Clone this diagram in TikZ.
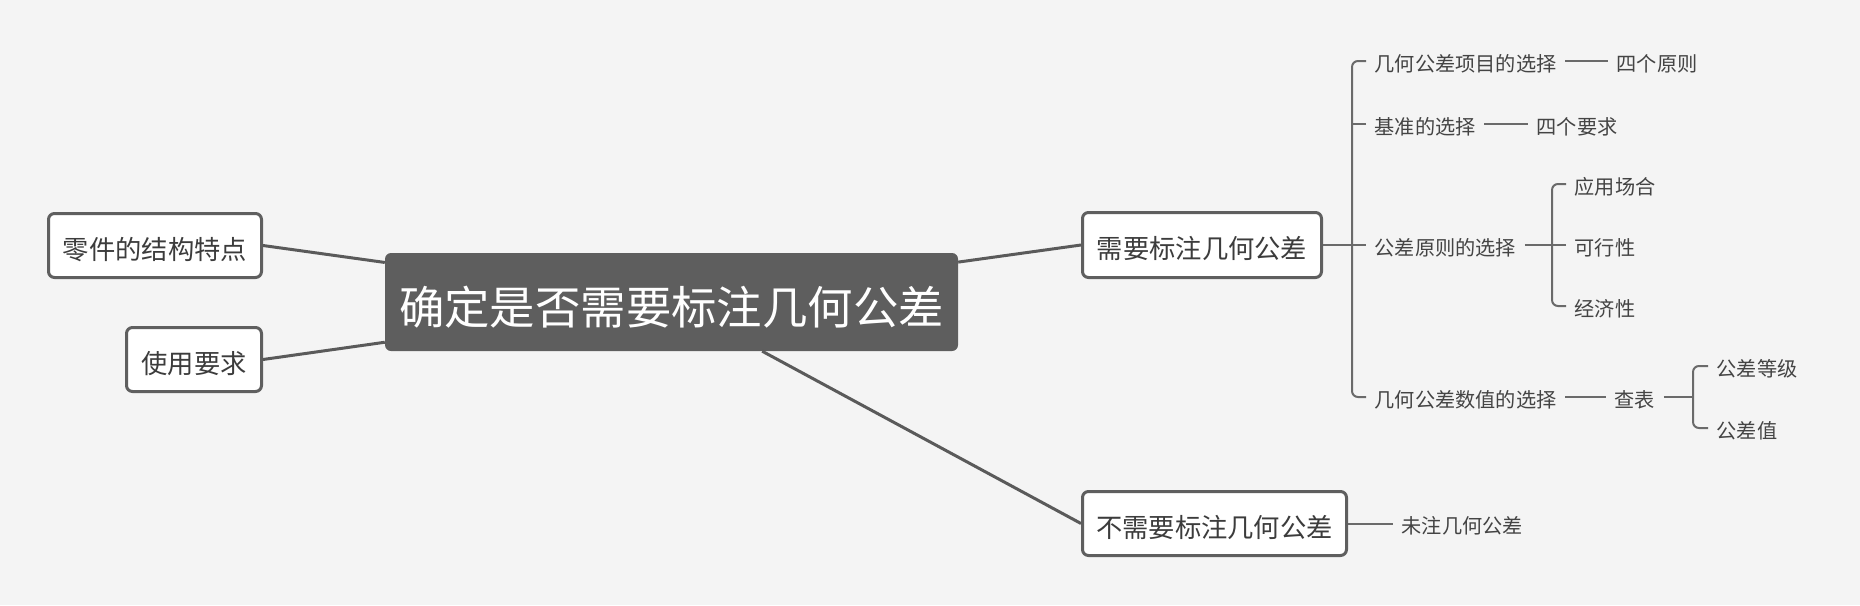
\documentclass[tikz,border=0pt]{standalone}
\usepackage{fontspec}
\setmainfont{Noto Sans CJK SC}
\definecolor{bgc}{HTML}{F4F4F4}
\definecolor{rootc}{HTML}{5E5E5E}
\definecolor{boxc}{HTML}{5F5F5F}
\definecolor{txtc}{HTML}{3C3C3C}
\definecolor{lblc}{HTML}{444444}
\definecolor{linec}{HTML}{5A5A5A}
\definecolor{brkc}{HTML}{6A6A6A}
\begin{document}
\begin{tikzpicture}[x=1pt,y=-1pt,
  rootbox/.style={fill=rootc, rounded corners=6pt, text=white, inner sep=0pt,
    font=\fontsize{45.4pt}{52pt}\selectfont, text height=44.4pt, text depth=0.4pt,
    minimum width=573pt, minimum height=98pt},
  childbox/.style={draw=boxc, line width=3pt, fill=white, rounded corners=6pt,
    text=txtc, inner sep=0pt, font=\fontsize{26.3pt}{30pt}\selectfont,
    text height=28.2pt, text depth=0.4pt},
  lbl/.style={text=lblc, font=\fontsize{20.2pt}{24pt}\selectfont, inner xsep=8.5pt,
    inner ysep=2pt, anchor=west, text height=21pt, text depth=0.4pt},
  conn/.style={draw=linec, line width=3pt},
  brk/.style={draw=brkc, line width=2pt},
  brkr/.style={brk, rounded corners=6pt}]
\fill[bgc] (0,0) rectangle (1860,605);
\useasboundingbox (0,0) rectangle (1860,605);

% central and first-level nodes
\node[rootbox] (root) at (671.5,302) {确定是否需要标注几何公差};
\node[childbox, minimum width=213pt, minimum height=64pt] (parts) at (155,245.5) {零件的结构特点};
\node[childbox, minimum width=135pt, minimum height=64pt] (use) at (194,359.5) {使用要求};
\node[childbox, minimum width=239pt, minimum height=65pt] (need) at (1202,245) {需要标注几何公差};
\node[childbox, minimum width=264pt, minimum height=64pt] (noneed) at (1214.5,523.5) {不需要标注几何公差};

\draw[conn] (root) -- (parts.east);
\draw[conn] (root) -- (use.east);
\draw[conn] (root) -- (need.west);
\draw[conn] (root) -- (noneed.west);

% second-level labels
\node[lbl] (a1) at (1366,61) {几何公差项目的选择};
\node[lbl] (b1) at (1608,61) {四个原则};
\node[lbl] (a2) at (1366,124) {基准的选择};
\node[lbl] (b2) at (1528,124) {四个要求};
\node[lbl] (a3) at (1366,245) {公差原则的选择};
\node[lbl] (c1) at (1566,184) {应用场合};
\node[lbl] (c2) at (1566,245) {可行性};
\node[lbl] (c3) at (1566,306) {经济性};
\node[lbl] (a4) at (1366,397) {几何公差数值的选择};
\node[lbl] (d1) at (1606,397) {查表};
\node[lbl] (e1) at (1708,366) {公差等级};
\node[lbl] (e2) at (1708,428) {公差值};
\node[lbl] (f1) at (1393,523.5) {未注几何公差};

% main bracket
\coordinate (m1) at (1352,245);
\draw[brkr] (a1.west) -| (m1) |- (a4.west);
\draw[brk] (a2.west) -- (a2.west -| m1);
\draw[brk] (need.east) -- (a3.west);
\draw[brk] (a1.east) -- (b1.west);
\draw[brk] (a2.east) -- (b2.west);
\draw[brk] (a4.east) -- (d1.west);

% bracket of 公差原则的选择
\coordinate (m2) at (1552,245);
\draw[brk] (a3.east) -- (m2);
\draw[brkr] (c1.west) -| (m2) |- (c3.west);
\draw[brk] (c2.west) -- (m2);

% bracket of 查表
\coordinate (m3) at (1693,397);
\draw[brk] (d1.east) -- (m3);
\draw[brkr] (e1.west) -| (m3) |- (e2.west);

% 不需要 branch
\draw[brk] (noneed.east) -- (f1.west);
\end{tikzpicture}
\end{document}
